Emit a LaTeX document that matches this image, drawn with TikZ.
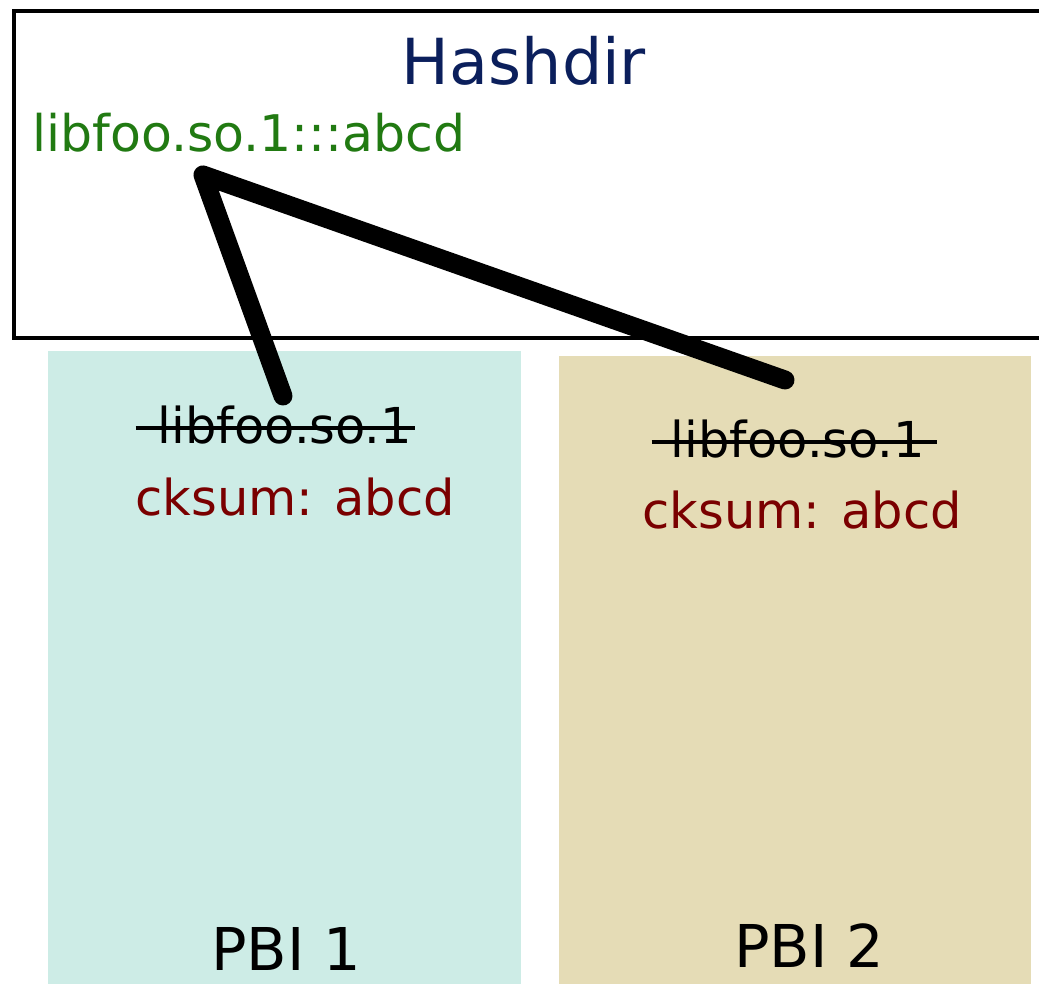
\documentclass[tikz,border=0pt]{standalone}
\usepackage{fontspec}
\setmainfont{DejaVu Sans}
\definecolor{hashblue}{HTML}{0B1F5C}
\definecolor{hashgreen}{HTML}{217A12}
\definecolor{sumred}{HTML}{7A0000}
\definecolor{tealfill}{HTML}{CDECE6}
\definecolor{tanfill}{HTML}{E5DCB6}
\tikzset{
  link/.style={line width=19pt, line cap=round, line join=round, black},
  striketxt/.style={inner sep=0pt, anchor=base, font=\fontsize{49.5}{58}\selectfont, text=black},
  sumtxt/.style={inner sep=0pt, anchor=base, font=\fontsize{49.5}{58}\selectfont, text=sumred},
  pbitxt/.style={inner sep=0pt, anchor=base, font=\fontsize{59}{70}\selectfont, text=black},
  strikeline/.style={line width=3.5pt, black},
}
\begin{document}
\begin{tikzpicture}[x=1pt,y=-1pt]
\useasboundingbox (0,0) rectangle (1039,984);
% PBI boxes
\fill[tealfill] (48,351) rectangle (521,990);
\fill[tanfill] (559,356) rectangle (1031,990);
% Hashdir box
\draw[line width=4pt, fill=white] (14,11) rectangle (1060,338.5);
\node[inner sep=0pt, anchor=base, text=hashblue, font=\fontsize{63.5}{74}\selectfont] (hashdir) at (524,85) {Hashdir};
\node[inner sep=0pt, anchor=base west, text=hashgreen, font=\fontsize{50.5}{60}\selectfont] (entry) at (32,152) {libfoo.so.1:::abcd};
% PBI 1 contents
\node[striketxt] (lib1) at (285,443) {libfoo.so.1};
\draw[strikeline] ([xshift=-22pt,yshift=15pt]lib1.base west) -- ([xshift=3pt,yshift=15pt]lib1.base east);
\node[sumtxt] (sum1) at (295,515) {cksum: abcd};
\node[pbitxt] (pbi1) at (286,970) {PBI 1};
% PBI 2 contents
\node[striketxt] (lib2) at (798,457) {libfoo.so.1};
\draw[strikeline] ([xshift=-19pt,yshift=15pt]lib2.base west) -- ([xshift=12pt,yshift=15pt]lib2.base east);
\node[sumtxt] (sum2) at (802,528) {cksum: abcd};
\node[pbitxt] (pbi2) at (809,967) {PBI 2};
% links
\coordinate (hub) at (203,175);
\coordinate (end1) at (283,396);
\coordinate (end2) at (785,380);
\draw[link] (end1) -- (hub) -- (end2);
\end{tikzpicture}
\end{document}
